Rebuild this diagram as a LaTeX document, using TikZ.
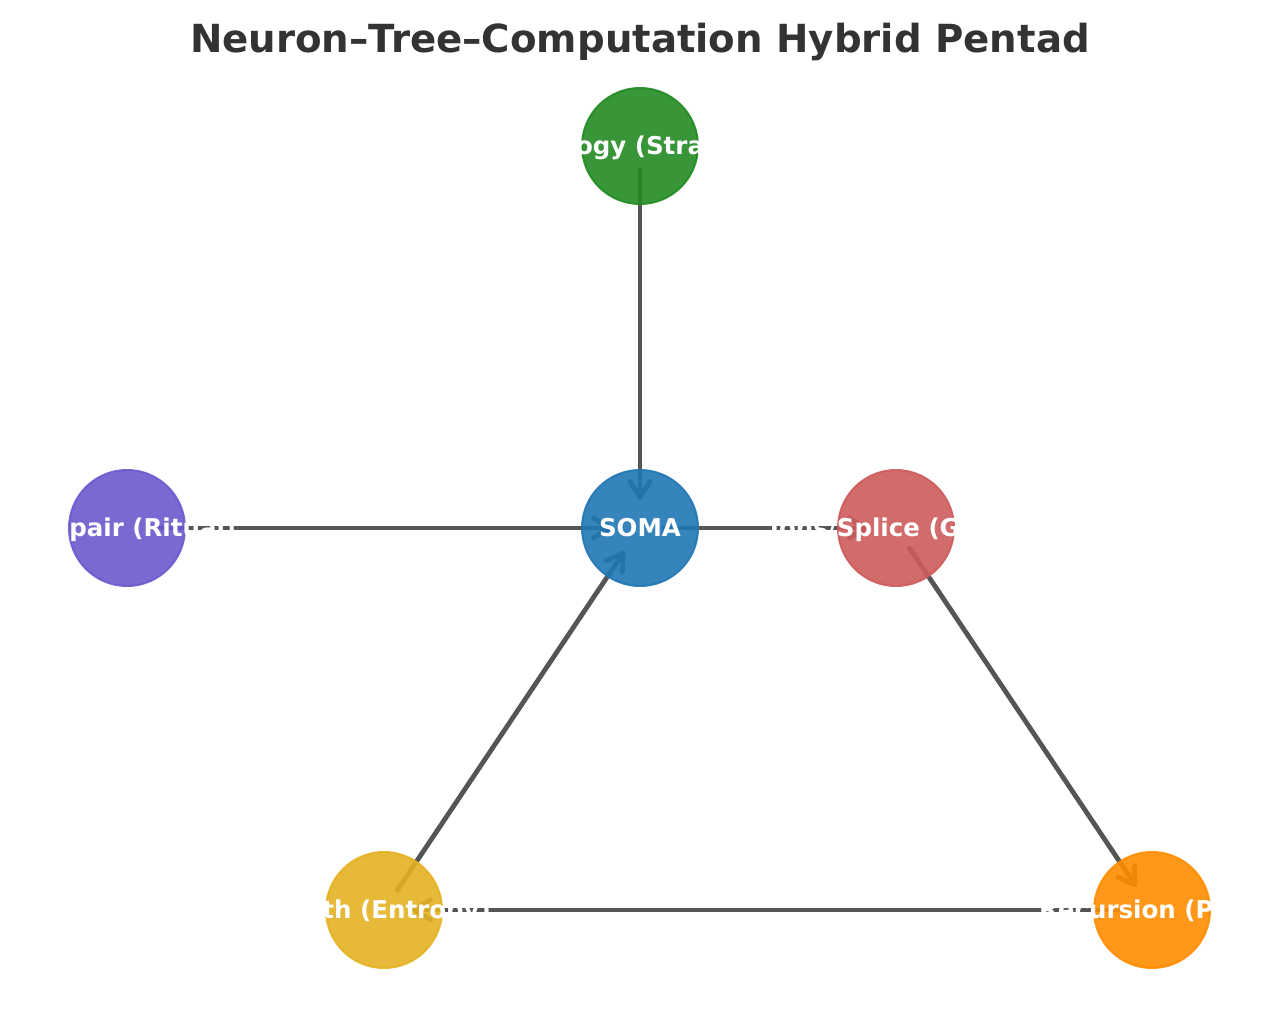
\documentclass[tikz,border=0pt]{standalone}
\usepackage{fontspec}
\setmainfont{DejaVu Sans}
\usetikzlibrary{arrows.meta}
\definecolor{titlegray}{RGB}{51,51,51}
\definecolor{linkgray}{RGB}{85,85,85}
\definecolor{somablue}{RGB}{31,119,180}
\definecolor{topogreen}{RGB}{34,139,34}
\definecolor{splicered}{RGB}{205,92,92}
\definecolor{despairpurple}{RGB}{106,90,205}
\definecolor{earthgold}{RGB}{227,178,34}
\definecolor{recursionorange}{RGB}{255,140,0}
\pgfdeclarelayer{background}
\pgfsetlayers{background,main}
\begin{document}
\begin{tikzpicture}[x=1pt, y=-1pt,
    vertex/.style={circle, minimum size=116pt, inner sep=0pt, line width=2pt,
        fill opacity=0.9, draw opacity=0.9, text opacity=1, text=white,
        font=\fontsize{24.5}{28}\selectfont\bfseries, text height=17.8pt, text depth=0pt},
    link/.style={draw=linkgray, line width=4.8pt, line cap=round,
        shorten <=24pt, shorten >=28pt,
        -{Straight Barb[length=16pt, width=20pt, round]}}]
    \useasboundingbox (0,0) rectangle (1280,1010);

    % Title
    \node[anchor=base, text=titlegray, font=\fontsize{38.7}{44}\selectfont\bfseries]
        (title) at (640,52) {Neuron–Tree–Computation Hybrid Pentad};

    % Pentad vertices around the soma
    \node[vertex, draw=somablue, fill=somablue] (soma) at (640,528) {\makebox[0pt]{SOMA}};
    \node[vertex, draw=topogreen, fill=topogreen] (topo) at (640,146) {\makebox[0pt]{Topology (Strategy)}};
    \node[vertex, draw=despairpurple, fill=despairpurple] (despair) at (127,528) {\makebox[0pt]{Despair (Ritual)}};
    \node[vertex, draw=splicered, fill=splicered] (splice) at (896,528) {\makebox[0pt]{Ions/Splice (Graft)}};
    \node[vertex, draw=earthgold, fill=earthgold] (earth) at (384,910) {\makebox[0pt]{Earth (Entropy)}};
    \node[vertex, draw=recursionorange, fill=recursionorange] (recursion) at (1152,910) {\makebox[0pt]{Recursion (Play)}};

    % Directed links, behind the vertices
    \begin{pgfonlayer}{background}
        \foreach \from/\to in {topo/soma, despair/soma, soma/splice, splice/recursion, earth/soma, recursion/earth}
            \draw[link] (\from.center) -- (\to.center);
    \end{pgfonlayer}

\end{tikzpicture}
\end{document}
